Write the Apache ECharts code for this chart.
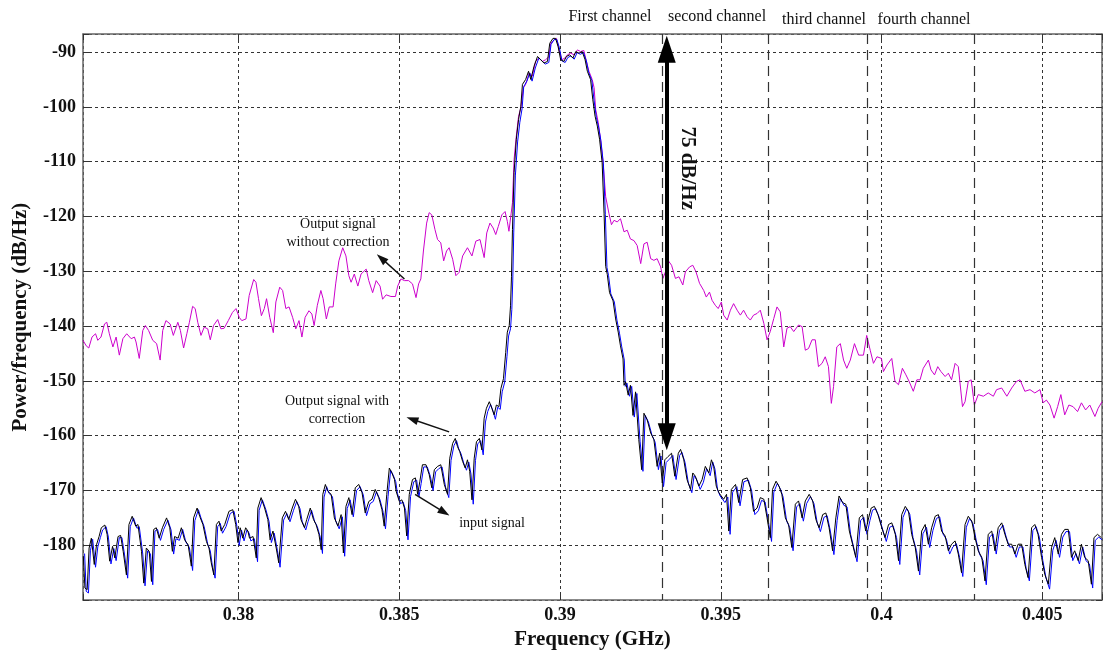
<!DOCTYPE html>
<html>
<head>
<meta charset="utf-8">
<script src="https://cdn.jsdelivr.net/npm/echarts@6/dist/echarts.min.js"></script>
<style>
  html, body { margin: 0; padding: 0; background: #fff; }
  #chart { width: 1105px; height: 655px; }
</style>
</head>
<body>
<div id="chart"></div>
<script>
// [frequency GHz, dB/Hz]
const withoutCorrection = [
  [0.37516,-142.6],[0.37526,-143.6],[0.37534,-144],[0.37544,-142],[0.37555,-141.4],[0.37562,-142.6],[0.37572,-142],[0.37583,-139.6],[0.3759,-139.3],[0.37598,-141.4],
  [0.37609,-143.8],[0.37619,-142],[0.37629,-145.3],[0.3764,-142.3],[0.37652,-141.4],[0.37666,-142.3],[0.37676,-142],[0.37681,-142.9],[0.37691,-145.9],[0.37702,-140.8],
  [0.3771,-139.9],[0.3772,-140.8],[0.37733,-142.6],[0.37745,-143.2],[0.37756,-146.2],[0.37764,-140.8],[0.37774,-139],[0.37787,-139.6],[0.37797,-141.7],[0.37811,-139.3],
  [0.37819,-140.8],[0.37829,-144],[0.37839,-141.4],[0.37847,-139.3],[0.37857,-136.4],[0.37865,-136.8],[0.37873,-139.3],[0.37883,-141.7],[0.37893,-140.2],[0.37904,-140.5],
  [0.37912,-142.5],[0.37922,-139.9],[0.37935,-138.8],[0.37945,-140.5],[0.37955,-140.4],[0.37968,-139],[0.37981,-137.5],[0.37992,-136.8],[0.38002,-138.4],[0.3801,-139],
  [0.38023,-138.7],[0.38033,-134.4],[0.38047,-131.5],[0.38054,-132],[0.38062,-135],[0.38071,-138.1],[0.3808,-136.8],[0.38087,-135],[0.38097,-138.4],[0.38108,-141.2],
  [0.38116,-135.6],[0.38128,-132.9],[0.38137,-133.5],[0.38147,-136.8],[0.38157,-136.5],[0.38168,-138.4],[0.38178,-140.5],[0.38188,-139],[0.38197,-142],[0.38207,-138.4],
  [0.38219,-137.2],[0.38228,-137.8],[0.38235,-139.9],[0.38245,-136.2],[0.38256,-133.5],[0.38263,-135],[0.38273,-138.7],[0.38282,-136.5],[0.38294,-136.5],[0.38302,-132.3],
  [0.38312,-128.1],[0.38324,-125.7],[0.38334,-127.2],[0.38343,-130.8],[0.3835,-132],[0.3836,-130.5],[0.38371,-132.7],[0.38381,-130.5],[0.38397,-129.6],[0.38405,-131.7],
  [0.38417,-133.9],[0.38428,-131.7],[0.3844,-132.7],[0.38448,-135.1],[0.38459,-134.3],[0.38474,-134.6],[0.38488,-134.6],[0.38495,-132.7],[0.38505,-131.4],[0.38516,-131.7],
  [0.38529,-131.7],[0.38541,-132.3],[0.38552,-134.8],[0.3856,-132.3],[0.38567,-131.4],[0.38575,-126.3],[0.38585,-121.2],[0.38593,-119.3],[0.38601,-119.7],[0.38611,-122.4],
  [0.38619,-124.2],[0.38629,-124.8],[0.38638,-128.1],[0.38647,-126.3],[0.38655,-125.7],[0.38666,-127.8],[0.38676,-130.8],[0.38686,-130.2],[0.38697,-127.2],[0.38712,-125.7],
  [0.38726,-127.2],[0.38738,-124.5],[0.38751,-124.2],[0.38764,-127.5],[0.38772,-123],[0.38782,-121.2],[0.38792,-122.1],[0.388,-123.3],[0.38808,-121.8],[0.38819,-119.7],
  [0.38829,-119.1],[0.38836,-120.9],[0.38841,-122.7],[0.38848,-119.4],[0.38852,-117.5],[0.38857,-109.6],[0.38864,-105.3],[0.38871,-101.7],[0.38878,-100.2],[0.38886,-96.5],
  [0.38893,-95.9],[0.38904,-93.8],[0.38914,-94.4],[0.38924,-91.7],[0.38935,-91.1],[0.38945,-91.7],[0.38955,-91.4],[0.38966,-90.8],[0.38971,-88.4],[0.38981,-87.8],
  [0.38989,-87.5],[0.38997,-89.6],[0.39005,-91.4],[0.39015,-91.1],[0.39023,-90.5],[0.39033,-90.2],[0.39044,-90.5],[0.39054,-89.6],[0.39064,-89.9],[0.39074,-89.7],
  [0.39082,-91.7],[0.3909,-93.5],[0.391,-95],[0.39106,-96.5],[0.39111,-100.5],[0.39119,-102.9],[0.39126,-105.9],[0.39134,-110.2],[0.39142,-116.4],[0.39152,-119.4],
  [0.3916,-121.5],[0.39168,-120.7],[0.39178,-121],[0.39188,-120.4],[0.39199,-122.8],[0.39209,-122.5],[0.39219,-124.1],[0.3923,-124.4],[0.3924,-125.3],[0.39251,-128.6],
  [0.39261,-125],[0.39271,-124.7],[0.39282,-127.7],[0.39292,-128],[0.39302,-127.7],[0.39313,-129.2],[0.3932,-131.3],[0.39328,-130.1],[0.39336,-128],[0.39347,-128.9],
  [0.39359,-131.3],[0.3937,-131],[0.39382,-132.5],[0.3939,-130.1],[0.39403,-129.2],[0.39413,-128.9],[0.39423,-130.1],[0.39434,-132.2],[0.39447,-133.5],[0.39455,-134.7],
  [0.39465,-133.8],[0.39473,-135.3],[0.39483,-136.2],[0.39492,-136.8],[0.39502,-135.6],[0.39509,-138],[0.3952,-138.9],[0.3953,-137.1],[0.3954,-135.9],[0.39551,-137.1],
  [0.39561,-138],[0.39571,-137.1],[0.39582,-138.3],[0.39592,-138.9],[0.39602,-138],[0.39613,-137.7],[0.39623,-137.1],[0.39634,-139.5],[0.39644,-142.5],[0.39654,-141],
  [0.39665,-138.6],[0.39675,-136.5],[0.39685,-137.4],[0.39696,-143.8],[0.39706,-140.4],[0.39716,-140.1],[0.39727,-141],[0.39742,-139.8],[0.39753,-140.1],[0.39763,-144.4],
  [0.39773,-144.1],[0.39784,-142.5],[0.39794,-142.5],[0.39804,-147.4],[0.39815,-146.8],[0.39825,-145.6],[0.39835,-147.4],[0.39844,-154.1],[0.39851,-151],[0.39861,-143.8],
  [0.39872,-143.2],[0.39882,-146.2],[0.39892,-147.7],[0.39903,-146.2],[0.39916,-143.2],[0.39929,-145.3],[0.39944,-145.3],[0.39954,-141.7],[0.39965,-144.4],[0.39975,-146.8],
  [0.39986,-145.6],[0.4,-145.9],[0.40006,-148.3],[0.40017,-147.1],[0.40032,-145.9],[0.40042,-150.1],[0.40053,-150.7],[0.40065,-147.7],[0.40076,-148.9],[0.40086,-150.1],
  [0.40099,-151.9],[0.4011,-149.8],[0.4012,-149.8],[0.4013,-147.7],[0.40146,-146.2],[0.40154,-148],[0.40165,-148.9],[0.40175,-147.4],[0.40185,-148.3],[0.40198,-149.2],
  [0.40208,-148.6],[0.40218,-149.8],[0.40229,-146.8],[0.40239,-147.4],[0.40252,-154.7],[0.4026,-153.8],[0.4027,-150.1],[0.40279,-149.8],[0.40289,-154.4],[0.40301,-152.5],
  [0.40317,-152.8],[0.40332,-152.2],[0.40348,-152.8],[0.40358,-151.6],[0.40374,-151.3],[0.4039,-152.8],[0.40405,-151.3],[0.4042,-150.1],[0.40431,-149.8],[0.40446,-151.9],
  [0.40462,-151.6],[0.40477,-152.2],[0.40493,-151.6],[0.40503,-154],[0.40513,-153.5],[0.40524,-154.4],[0.40537,-156.8],[0.40548,-154.7],[0.40558,-152.5],[0.4057,-156.2],
  [0.40583,-154.4],[0.40596,-154.7],[0.4061,-155.6],[0.40622,-154],[0.40635,-155.3],[0.40648,-154.4],[0.40664,-156.5],[0.40674,-155],[0.40686,-153.8]
];

const withCorrection = [
  [0.37517,-182],[0.37522,-187.8],[0.37529,-188.1],[0.37535,-180.5],[0.37542,-178.7],[0.37551,-183.5],[0.37558,-179.9],[0.37566,-178.4],[0.37573,-176.8],[0.37584,-176.3],
  [0.37591,-178],[0.37599,-182.9],[0.37608,-180.2],[0.37615,-182.3],[0.37625,-178.4],[0.37633,-178.2],[0.37641,-181.1],[0.37651,-185.4],[0.37659,-176.2],[0.37669,-174.7],
  [0.3768,-176.5],[0.37687,-176.2],[0.37698,-181.1],[0.37705,-186.9],[0.37713,-180.5],[0.37722,-181.1],[0.37729,-186.6],[0.37736,-177.1],[0.37744,-176.8],[0.37753,-178.7],
  [0.37763,-176.8],[0.37776,-175],[0.37786,-176.8],[0.37794,-181.1],[0.37801,-178.4],[0.37812,-178.7],[0.37822,-176.8],[0.37832,-179],[0.37843,-179.9],[0.37853,-183.8],
  [0.3786,-175],[0.37871,-173.2],[0.37879,-174.7],[0.37889,-176.2],[0.379,-179.3],[0.37908,-180.5],[0.37915,-183.2],[0.37923,-185.4],[0.37931,-176.2],[0.37939,-175.6],
  [0.37946,-177.4],[0.37957,-176.2],[0.3797,-173.8],[0.37982,-173.5],[0.37991,-176.2],[0.37998,-179.5],[0.38005,-176.8],[0.38013,-178.7],[0.38022,-176.8],[0.38029,-177.4],
  [0.38034,-178.7],[0.38045,-178.4],[0.38055,-182.3],[0.3806,-173.2],[0.3807,-171.3],[0.38081,-173.2],[0.38091,-175.3],[0.38098,-179],[0.38107,-177.4],[0.38117,-180.5],
  [0.38125,-183.2],[0.38136,-175],[0.38146,-173.8],[0.38156,-175.3],[0.38167,-173.2],[0.38177,-171.6],[0.38187,-172.9],[0.38194,-175.3],[0.38205,-176.8],[0.38212,-175.3],
  [0.38223,-173.2],[0.38233,-175.3],[0.38241,-176.2],[0.3825,-178],[0.38257,-180.8],[0.38262,-170.7],[0.3827,-168.9],[0.38277,-170.1],[0.38288,-170.7],[0.38298,-175],
  [0.38309,-176.5],[0.38319,-174.4],[0.38326,-181.4],[0.38334,-172.9],[0.38343,-171.3],[0.38353,-174.4],[0.38363,-169.5],[0.38374,-168.9],[0.38384,-170.4],[0.38394,-174.1],
  [0.38405,-172],[0.38415,-171.6],[0.38425,-169.8],[0.38436,-171.3],[0.38446,-173.5],[0.38453,-176.5],[0.38461,-170.7],[0.38469,-165.9],[0.38477,-166.8],[0.38485,-168],
  [0.3849,-170.1],[0.385,-172],[0.38508,-171.7],[0.38516,-173.2],[0.38523,-178.3],[0.38531,-170.7],[0.38541,-168],[0.3855,-167.7],[0.38557,-170.7],[0.38564,-168.3],
  [0.38572,-165.3],[0.38583,-165.3],[0.38593,-167.1],[0.38601,-169.5],[0.38609,-166.2],[0.38619,-165.6],[0.38629,-165.3],[0.3864,-168.9],[0.3865,-170.7],[0.38657,-164.1],
  [0.38666,-161.4],[0.38674,-160.5],[0.38681,-162],[0.38688,-162.9],[0.38697,-164.7],[0.38705,-165.9],[0.38712,-164.4],[0.38719,-166.5],[0.38726,-171.7],[0.38733,-164.1],
  [0.3874,-161.1],[0.38749,-160.5],[0.38757,-162.6],[0.38764,-156.8],[0.38771,-155],[0.3878,-153.8],[0.38788,-155],[0.38795,-156.2],[0.38802,-154.4],[0.3881,-154.7],
  [0.38816,-151.4],[0.38824,-149.6],[0.38831,-144.8],[0.38836,-141.1],[0.38842,-139.9],[0.38846,-136.3],[0.38849,-130.9],[0.38852,-122.4],[0.38857,-112],[0.38864,-105.9],
  [0.38871,-102.3],[0.38878,-99.9],[0.38883,-95.9],[0.38893,-95],[0.38902,-93.5],[0.38909,-95],[0.38919,-92.6],[0.3893,-90.8],[0.3894,-91.4],[0.3895,-92],
  [0.38961,-91.7],[0.38968,-88.4],[0.38978,-87.5],[0.38986,-87.5],[0.38994,-89],[0.39002,-91.4],[0.39012,-91.7],[0.3902,-90.8],[0.3903,-90.5],[0.3904,-91.1],
  [0.39049,-89.9],[0.39059,-90.2],[0.39069,-89.9],[0.39078,-91.4],[0.39085,-93.5],[0.39095,-95],[0.39102,-98.7],[0.39109,-101.7],[0.39116,-103.5],[0.39123,-105.9],
  [0.39131,-110.2],[0.39137,-119.4],[0.39142,-129.1],[0.39147,-130.6],[0.39154,-133.9],[0.39165,-135.4],[0.39173,-138.7],[0.39181,-141.1],[0.39188,-143.6],[0.39196,-146],
  [0.39199,-150.8],[0.39204,-150.2],[0.39212,-152.6],[0.39219,-150.8],[0.39227,-156.3],[0.39235,-152],[0.39245,-160.7],[0.39254,-166.2],[0.39261,-155.9],[0.39271,-157.1],
  [0.39282,-159.5],[0.39292,-160.7],[0.39302,-165.6],[0.3931,-163.2],[0.39318,-168.6],[0.39326,-164.4],[0.39336,-163.8],[0.39347,-163.2],[0.39357,-167.4],[0.39368,-163.2],
  [0.39375,-162.5],[0.39385,-164.4],[0.39395,-168],[0.39406,-169.8],[0.39413,-166.8],[0.39421,-167.4],[0.39432,-169.2],[0.39442,-168],[0.39452,-165.6],[0.39463,-166.8],
  [0.39471,-164.4],[0.39478,-165.6],[0.39486,-169.2],[0.39494,-170.4],[0.39509,-171.6],[0.39518,-170.7],[0.39525,-177.4],[0.39533,-169.8],[0.39546,-168.9],[0.39556,-172.2],
  [0.39568,-168],[0.39582,-167.7],[0.39592,-169.5],[0.39602,-173.8],[0.39613,-173.2],[0.39623,-171.3],[0.39634,-171.6],[0.39644,-175],[0.39654,-178.6],[0.39661,-169.8],
  [0.39672,-168.3],[0.39682,-169.3],[0.3969,-170.7],[0.39701,-175],[0.39711,-176.2],[0.39721,-180.4],[0.39732,-172.5],[0.39742,-171.9],[0.39753,-175],[0.39763,-171.9],
  [0.39775,-170.7],[0.39786,-171.9],[0.39796,-175.3],[0.39806,-176.8],[0.39817,-174.4],[0.39827,-174.1],[0.39837,-176.8],[0.39848,-181],[0.39858,-175],[0.39868,-171],
  [0.39879,-172.2],[0.39889,-172.5],[0.399,-177.4],[0.3991,-179.8],[0.3992,-182.2],[0.39931,-175],[0.39941,-174.4],[0.39951,-177.4],[0.3996,-175],[0.39968,-173.2],
  [0.39978,-172.9],[0.39989,-174.4],[0.40001,-176.8],[0.40011,-178.6],[0.40022,-176.2],[0.40032,-175.9],[0.40043,-178],[0.40053,-182.8],[0.40063,-174.4],[0.40074,-172.9],
  [0.40084,-173.8],[0.40094,-178],[0.40105,-180.4],[0.40115,-184.7],[0.40125,-177.4],[0.40136,-176.2],[0.40146,-179.8],[0.40156,-176.8],[0.40167,-174.7],[0.40177,-174.4],
  [0.40187,-177.4],[0.40198,-178.3],[0.40208,-181],[0.40218,-179.8],[0.40229,-179.2],[0.40239,-181.6],[0.40249,-185],[0.4026,-176.2],[0.4027,-174.7],[0.40281,-175.6],
  [0.40291,-178.6],[0.40301,-181],[0.40312,-182.2],[0.40322,-186.5],[0.40332,-178],[0.40343,-177.4],[0.40353,-181],[0.40363,-176.8],[0.40374,-175.9],[0.40384,-178],
  [0.40394,-179.8],[0.40405,-179.8],[0.40415,-181.6],[0.40425,-179.8],[0.40436,-179.8],[0.40446,-183.5],[0.40456,-185.9],[0.40467,-176.8],[0.40477,-176.2],[0.40487,-178],
  [0.40498,-182.2],[0.40508,-185.3],[0.40519,-187.1],[0.40529,-180.4],[0.40539,-178.6],[0.4055,-181.6],[0.4056,-178],[0.4057,-177.1],[0.40581,-177.1],[0.40591,-182.2],
  [0.40601,-181],[0.40612,-182.8],[0.40622,-179.8],[0.40632,-182.2],[0.40643,-182.8],[0.40653,-187.1],[0.40661,-178.6],[0.40672,-178],[0.40684,-178.6]
];

const inputSignal = [
  [0.37521,-181.5],[0.37526,-188.4],[0.37533,-188.7],[0.37539,-181],[0.37546,-178.9],[0.37555,-184],[0.37562,-180.3],[0.3757,-178.6],[0.37577,-177.2],[0.37588,-176.6],
  [0.37595,-178.5],[0.37603,-183.4],[0.37612,-180.6],[0.37619,-182.8],[0.37629,-178.6],[0.37637,-178.6],[0.37645,-181.6],[0.37655,-186],[0.37663,-176.6],[0.37673,-175],
  [0.37684,-176.9],[0.37691,-176.6],[0.37702,-181.6],[0.37709,-187.4],[0.37717,-181],[0.37726,-181.6],[0.37733,-187.2],[0.3774,-177.4],[0.37748,-177.1],[0.37757,-179.1],
  [0.37767,-177.1],[0.3778,-175.4],[0.3779,-177.2],[0.37798,-181.6],[0.37805,-178.8],[0.37816,-179.1],[0.37826,-177.1],[0.37836,-179.4],[0.37847,-180.4],[0.37857,-184.6],
  [0.37864,-175.5],[0.37875,-173.5],[0.37883,-175],[0.37893,-176.6],[0.37904,-179.8],[0.37912,-181],[0.37919,-184],[0.37927,-186],[0.37935,-176.6],[0.37943,-176],
  [0.3795,-177.8],[0.37961,-176.6],[0.37974,-174.2],[0.37986,-173.8],[0.37995,-176.6],[0.38002,-180],[0.38009,-177.2],[0.38017,-179.2],[0.38026,-177.2],[0.38033,-177.8],
  [0.38038,-179.2],[0.38049,-178.8],[0.38059,-183],[0.38064,-173.6],[0.38074,-171.7],[0.38085,-173.5],[0.38095,-175.7],[0.38102,-179.5],[0.38111,-177.8],[0.38121,-181],
  [0.38129,-184],[0.3814,-175.4],[0.3815,-174.2],[0.3816,-175.7],[0.38171,-173.6],[0.38181,-172],[0.38191,-173.3],[0.38198,-175.7],[0.38209,-177.2],[0.38216,-175.7],
  [0.38227,-173.6],[0.38237,-175.7],[0.38245,-176.6],[0.38254,-178.5],[0.38261,-181.5],[0.38266,-171.2],[0.38274,-169.3],[0.38281,-170.5],[0.38292,-171.1],[0.38302,-175.5],
  [0.38313,-177],[0.38323,-174.8],[0.3833,-182],[0.38338,-173.3],[0.38347,-171.7],[0.38357,-174.8],[0.38367,-170],[0.38378,-169.3],[0.38388,-170.8],[0.38398,-174.6],
  [0.38409,-172.4],[0.38419,-172],[0.38429,-170.2],[0.3844,-171.7],[0.3845,-174],[0.38457,-177],[0.38465,-171.1],[0.38473,-166.3],[0.38481,-167.2],[0.38489,-168.4],
  [0.38494,-170.5],[0.38504,-172.4],[0.38512,-172.1],[0.3852,-173.7],[0.38527,-179],[0.38535,-171.1],[0.38545,-168.4],[0.38554,-168.1],[0.38561,-171.2],[0.38568,-168.7],
  [0.38576,-165.7],[0.38587,-165.7],[0.38597,-167.5],[0.38605,-170],[0.38613,-166.6],[0.38623,-166],[0.38633,-165.7],[0.38644,-169.4],[0.38654,-171.3],[0.38661,-164.5],
  [0.3867,-161.8],[0.38678,-160.9],[0.38685,-162.4],[0.38692,-163.3],[0.38701,-165.1],[0.38709,-166.3],[0.38716,-164.8],[0.38723,-167],[0.3873,-172.5],[0.38737,-164.5],
  [0.38744,-161.5],[0.38753,-160.9],[0.38761,-163.5],[0.38768,-157.5],[0.38775,-155.6],[0.38784,-154.3],[0.38792,-155.6],[0.38799,-157],[0.38806,-154.8],[0.38814,-155.2],
  [0.3882,-152],[0.38828,-150.2],[0.38835,-145.5],[0.3884,-141.8],[0.38846,-140.5],[0.3885,-137],[0.38853,-131.6],[0.38856,-123],[0.38861,-112.6],[0.38868,-106.4],
  [0.38875,-102.8],[0.38882,-100.3],[0.38887,-96.3],[0.38897,-95.3],[0.38906,-93.8],[0.38913,-95.3],[0.38923,-92.9],[0.38934,-91.1],[0.38944,-91.6],[0.38954,-92.2],
  [0.38965,-91.9],[0.38972,-88.6],[0.38982,-87.7],[0.3899,-87.7],[0.38998,-89.2],[0.39006,-91.6],[0.39016,-91.9],[0.39024,-91],[0.39034,-90.7],[0.39044,-91.3],
  [0.39053,-90.1],[0.39063,-90.4],[0.39073,-90.1],[0.39082,-91.6],[0.39089,-93.7],[0.39099,-95.2],[0.39106,-98.9],[0.39113,-101.9],[0.3912,-103.7],[0.39127,-106.1],
  [0.39135,-110.4],[0.39141,-119.6],[0.39146,-129.3],[0.39151,-130.8],[0.39158,-134.1],[0.39169,-135.6],[0.39177,-138.9],[0.39185,-141.3],[0.39192,-143.8],[0.392,-146.2],
  [0.39203,-151],[0.39208,-150.4],[0.39216,-152.8],[0.39223,-151],[0.39231,-156.6],[0.39239,-152.3],[0.39249,-161],[0.39258,-166.5],[0.39265,-156.3],[0.39275,-157.5],
  [0.39286,-159.9],[0.39296,-161.2],[0.39306,-166.2],[0.39314,-163.7],[0.39322,-169.3],[0.3933,-164.9],[0.3934,-164.3],[0.39351,-163.6],[0.39361,-168],[0.39372,-163.6],
  [0.39379,-163],[0.39389,-164.9],[0.39399,-168.6],[0.3941,-170.4],[0.39417,-167.3],[0.39425,-168],[0.39436,-169.8],[0.39446,-168.5],[0.39456,-166],[0.39467,-167.3],
  [0.39475,-164.8],[0.39482,-166.1],[0.3949,-169.8],[0.39498,-171],[0.39513,-172.2],[0.39522,-171.2],[0.39529,-178],[0.39537,-170.3],[0.3955,-169.3],[0.3956,-172.8],
  [0.39572,-168.4],[0.39586,-168.1],[0.39596,-170],[0.39606,-174.4],[0.39617,-173.7],[0.39627,-171.8],[0.39638,-172.1],[0.39648,-175.6],[0.39658,-179.3],[0.39665,-170.3],
  [0.39676,-168.7],[0.39686,-169.8],[0.39694,-171.2],[0.39705,-175.6],[0.39715,-176.8],[0.39725,-181],[0.39736,-173],[0.39746,-172.4],[0.39757,-175.6],[0.39767,-172.4],
  [0.39779,-171.1],[0.3979,-172.4],[0.398,-175.9],[0.3981,-177.5],[0.39821,-174.9],[0.39831,-174.6],[0.39841,-177.4],[0.39852,-181.7],[0.39862,-175.5],[0.39872,-171.4],
  [0.39883,-172.7],[0.39893,-173],[0.39904,-178],[0.39914,-180.5],[0.39924,-183],[0.39935,-175.5],[0.39945,-174.9],[0.39955,-178],[0.39964,-175.5],[0.39972,-173.6],
  [0.39982,-173.3],[0.39993,-174.9],[0.40005,-177.4],[0.40015,-179.3],[0.40026,-176.7],[0.40036,-176.4],[0.40047,-178.6],[0.40057,-183.5],[0.40067,-174.9],[0.40078,-173.3],
  [0.40088,-174.3],[0.40098,-178.6],[0.40109,-181],[0.40119,-185.4],[0.40129,-177.9],[0.4014,-176.7],[0.4015,-180.4],[0.4016,-177.3],[0.40171,-175.1],[0.40181,-174.8],
  [0.40191,-177.9],[0.40202,-178.9],[0.40212,-181.6],[0.40222,-180.3],[0.40233,-179.7],[0.40243,-182.2],[0.40253,-185.7],[0.40264,-176.7],[0.40274,-175.1],[0.40285,-176.1],
  [0.40295,-179.2],[0.40305,-181.6],[0.40316,-182.8],[0.40326,-187.2],[0.40336,-178.5],[0.40347,-177.9],[0.40357,-181.6],[0.40367,-177.3],[0.40378,-176.3],[0.40388,-178.5],
  [0.40398,-180.3],[0.40409,-180.3],[0.40419,-182.2],[0.40429,-180.3],[0.4044,-180.3],[0.4045,-184.2],[0.4046,-186.5],[0.40471,-177.3],[0.40481,-176.6],[0.40491,-178.5],
  [0.40502,-182.8],[0.40512,-186],[0.40523,-188],[0.40533,-180.9],[0.40543,-179.1],[0.40554,-182.2],[0.40564,-178.5],[0.40574,-177.5],[0.40585,-177.5],[0.40595,-182.8],
  [0.40605,-181.5],[0.40616,-183.4],[0.40626,-180.3],[0.40636,-182.8],[0.40647,-183.4],[0.40657,-187.8],[0.40665,-179.1],[0.40676,-178.5],[0.40686,-179]
];

const channelEdges = [0.39317, 0.39648, 0.39957, 0.40288];
const channelNames = ['First channel', 'second channel', 'third channel', 'fourth channel'];
const spanFreq = 0.39332;
const spanEnds = [-89.5, -160.2];
const spanLabel = '75 dB/Hz';
// annotation arrows: [tail, head]
const noteArrows = [
  [[0.38516, -131.4], [0.38444, -127.6]],
  [[0.38655, -159.3], [0.38540, -157.0]],
  [[0.38549, -170.7], [0.38640, -174.0]]
];

const serif = "'Liberation Serif', 'Times New Roman', serif";
const xMin = 0.37516, xMax = 0.40686;
const yMin = -190, yMax = -86.7;

const chart = echarts.init(document.getElementById('chart'));

const tickLabel = { color: '#111', fontFamily: serif, fontWeight: 'bold', fontSize: 18 };
const gridDash = { color: '#333', width: 1, type: [3, 3] };
const frame = { lineStyle: { color: '#666', width: 1.5 } };

const option = {
  animation: false,
  grid: { left: 83, right: 1, top: 34, bottom: 52 },
  xAxis: [
    {
      type: 'value', min: xMin, max: xMax, splitNumber: 6, position: 'bottom',
      axisLine: frame,
      axisTick: { inside: true, length: 6, lineStyle: { color: '#333' } },
      axisLabel: Object.assign({}, tickLabel, {
        margin: 6,
        formatter: v => Math.abs(v * 200 - Math.round(v * 200)) < 1e-6 ? String(+v.toFixed(3)) : ''
      }),
      splitLine: { show: true, lineStyle: gridDash },
      name: 'Frequency (GHz)', nameLocation: 'middle', nameGap: 27,
      nameTextStyle: { color: '#111', fontFamily: serif, fontWeight: 'bold', fontSize: 21 }
    },
    {
      type: 'value', min: xMin, max: xMax, splitNumber: 6, position: 'top',
      axisLine: frame,
      axisTick: { inside: true, length: 6, lineStyle: { color: '#333' } },
      axisLabel: { show: false }, splitLine: { show: false }
    }
  ],
  yAxis: [
    {
      type: 'value', min: yMin, max: yMax, interval: 10, position: 'left',
      axisLine: frame,
      axisTick: { inside: true, length: 6, lineStyle: { color: '#333' } },
      axisLabel: Object.assign({}, tickLabel, {
        margin: 7,
        formatter: v => (v >= -180 && v <= -90 && Math.abs(v % 10) < 1e-6) ? String(v) : ''
      }),
      splitLine: { show: true, lineStyle: gridDash },
      name: 'Power/frequency (dB/Hz)', nameLocation: 'middle', nameGap: 52, nameRotate: 90,
      nameTextStyle: { color: '#111', fontFamily: serif, fontWeight: 'bold', fontSize: 21 }
    },
    {
      type: 'value', min: yMin, max: yMax, interval: 10, position: 'right',
      axisLine: frame,
      axisTick: { inside: true, length: 6, lineStyle: { color: '#333' } },
      axisLabel: { show: false }, splitLine: { show: false }
    }
  ],
  series: [
    {
      name: 'Output signal without correction', type: 'line', data: withoutCorrection,
      symbol: 'none', lineStyle: { color: '#cc00cc', width: 1 }, z: 3,
      markLine: {
        silent: true, animation: false, symbol: ['none', 'none'],
        label: { show: false },
        lineStyle: { color: '#333', width: 1.2, type: [10, 6] },
        data: channelEdges.map(v => [{ coord: [v, yMax] }, { coord: [v, yMin] }])
      }
    },
    {
      name: 'input signal', type: 'line', data: inputSignal,
      symbol: 'none', lineStyle: { color: '#0000ff', width: 1 }, z: 4,
      markLine: {
        silent: true, animation: false,
        symbol: ['triangle', 'triangle'], symbolSize: [18, 27],
        label: { show: false },
        lineStyle: { color: '#000', width: 4, type: 'solid' },
        data: [[{ coord: [spanFreq, spanEnds[0]] }, { coord: [spanFreq, spanEnds[1]] }]]
      }
    },
    {
      name: 'Output signal with correction', type: 'line', data: withCorrection,
      symbol: 'none', lineStyle: { color: '#000', width: 1 }, z: 5,
      markLine: {
        silent: true, animation: false,
        symbol: ['none', 'triangle'], symbolSize: [8, 12],
        label: { show: false },
        lineStyle: { color: '#111', width: 1.5, type: 'solid' },
        data: noteArrows.map(a => [{ coord: a[0] }, { coord: a[1] }])
      }
    }
  ]
};
chart.setOption(option);

const txt = (x, y, text, size, extra) => Object.assign({
  type: 'text', x: x, y: y, z: 10, silent: true,
  style: { text: text, fill: '#111', fontFamily: serif, fontSize: size, align: 'center', verticalAlign: 'middle', lineHeight: 18 }
}, extra || {});

const chX = [610, 717, 824, 924];
const chY = [17, 17, 20, 20];
const spanPx = chart.convertToPixel({ gridIndex: 0 }, [spanFreq, -111.2]);
const graphics = channelNames.map((n, i) => txt(chX[i], chY[i], n, 16));
graphics.push(txt(338, 233, 'Output signal\nwithout correction', 14));
graphics.push(txt(337, 410, 'Output signal with\ncorrection', 14));
graphics.push(txt(492, 523, 'input signal', 14));
const spanText = txt(spanPx[0] + 21, spanPx[1], spanLabel, 21, { rotation: -Math.PI / 2 });
spanText.style.fontWeight = 'bold';
graphics.push(spanText);
chart.setOption({ graphic: graphics });
</script>
</body>
</html>
